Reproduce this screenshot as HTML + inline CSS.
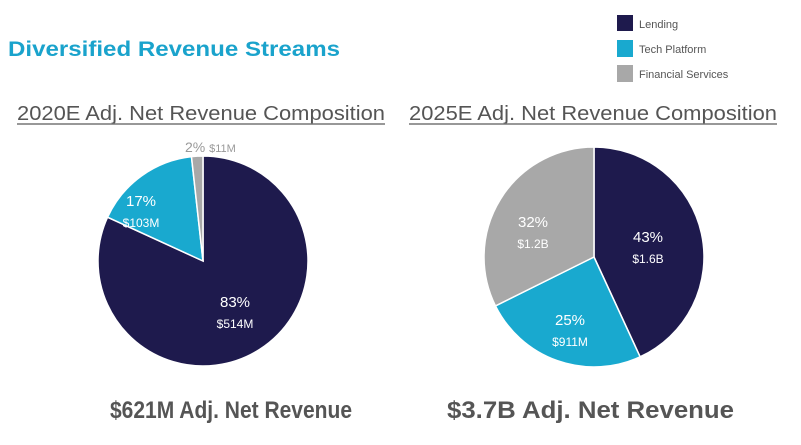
<!DOCTYPE html>
<html><head><meta charset="utf-8"><style>
body{margin:0;width:801px;height:445px;background:#fff;overflow:hidden;font-family:"Liberation Sans",sans-serif}
svg{position:absolute;left:0;top:0}
</style></head><body>
<svg width="801" height="445" id="s">
<text x="8" y="56" font-size="21" font-weight="bold" fill="#1aa3cc" textLength="332" lengthAdjust="spacingAndGlyphs">Diversified Revenue Streams</text>
<g font-size="11" fill="#555">
<rect x="617" y="15" width="16" height="16" fill="#1e1a4d"/>
<text x="639" y="28">Lending</text>
<rect x="617" y="40" width="16" height="17" fill="#19a9cf"/>
<text x="639" y="53">Tech Platform</text>
<rect x="617" y="65" width="16" height="17" fill="#a8a8a8"/>
<text x="639" y="78">Financial Services</text>
</g>
<text x="17" y="120" font-size="20" fill="#555" textLength="368" lengthAdjust="spacingAndGlyphs">2020E Adj. Net Revenue Composition</text>
<text x="409" y="120" font-size="20" fill="#555" textLength="368" lengthAdjust="spacingAndGlyphs">2025E Adj. Net Revenue Composition</text>
<line x1="17" y1="124" x2="385" y2="124" stroke="#777" stroke-width="1.5"/>
<line x1="409" y1="124" x2="777" y2="124" stroke="#777" stroke-width="1.5"/>
<text x="110" y="418" font-size="24" font-weight="bold" fill="#555" textLength="242" lengthAdjust="spacingAndGlyphs">$621M Adj. Net Revenue</text>
<text x="447" y="418" font-size="24" font-weight="bold" fill="#555" textLength="287" lengthAdjust="spacingAndGlyphs">$3.7B Adj. Net Revenue</text>
</svg>
<script>
const categories=["Lending","Tech Platform","Financial Services"];
const pie1Values=[514,103,11];
const pie1Pct=["83%","17%","2%"];
const pie1Amt=["$514M","$103M","$11M"];
const pie2Values=[1.6,0.911,1.2];
const pie2Pct=["43%","25%","32%"];
const pie2Amt=["$1.6B","$911M","$1.2B"];
const colors=["#1e1a4d","#19a9cf","#a8a8a8"];
const NS="http://www.w3.org/2000/svg",svg=document.getElementById('s');
function pie(id,cx,cy,r,vals,pct,amt,labelPos){
  const tot=vals.reduce((a,b)=>a+b,0);let a0=0;
  vals.forEach((v,i)=>{
    const a1=a0+v/tot*2*Math.PI;
    const x0=cx+r*Math.sin(a0),y0=cy-r*Math.cos(a0),x1=cx+r*Math.sin(a1),y1=cy-r*Math.cos(a1);
    const p=document.createElementNS(NS,'path');
    p.setAttribute('d',`M${cx},${cy}L${x0},${y0}A${r},${r} 0 ${a1-a0>Math.PI?1:0} 1 ${x1},${y1}Z`);
    p.setAttribute('fill',colors[i]);p.setAttribute('stroke','#fff');p.setAttribute('stroke-width','1.5');
    
    
    svg.appendChild(p);
    const [lx,ly,inside,inline]=labelPos[i];
    const fill=inside?'#fff':'#999';
    if(inline){
      const t=document.createElementNS(NS,'text');
      t.setAttribute('x',lx);t.setAttribute('y',ly);t.setAttribute('fill',fill);t.setAttribute('font-size','14');
      t.innerHTML=pct[i]+' <tspan font-size="11">'+amt[i]+'</tspan>';
      
      
      svg.appendChild(t);
    } else {
      const t=document.createElementNS(NS,'text');
      t.setAttribute('x',lx);t.setAttribute('y',ly);t.setAttribute('fill',fill);t.setAttribute('font-size','15');t.setAttribute('text-anchor','middle');
      t.textContent=pct[i];
      
      
      svg.appendChild(t);
      const u=document.createElementNS(NS,'text');
      u.setAttribute('x',lx);u.setAttribute('y',ly+21);u.setAttribute('fill',fill);u.setAttribute('font-size','12');u.setAttribute('text-anchor','middle');
      u.textContent=amt[i];
      
      
      svg.appendChild(u);
    }
    a0=a1;
  });
}
pie('pie1',203,261,105,pie1Values,pie1Pct,pie1Amt,[[235,307,1],[141,206,1],[185,152,0,1]]);
pie('pie2',594,257,110,pie2Values,pie2Pct,pie2Amt,[[648,242,1],[570,325,1],[533,227,1]]);
</script>
</body></html>
